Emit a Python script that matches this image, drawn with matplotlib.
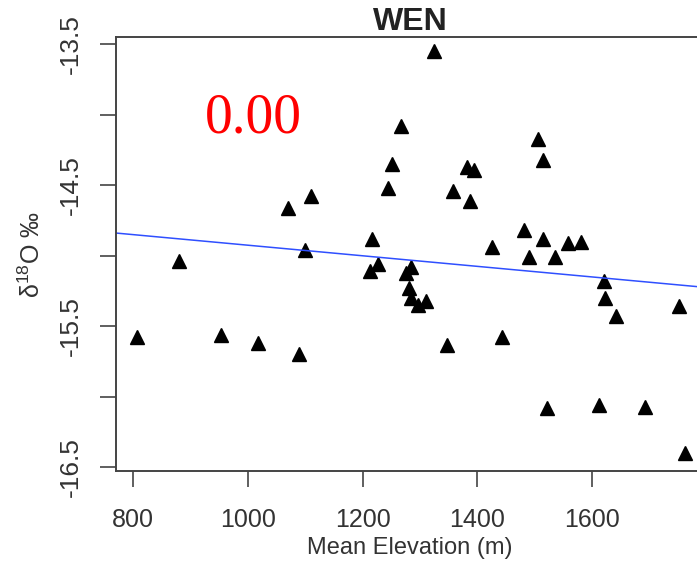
import matplotlib.pyplot as plt
import numpy as np

plt.rcParams['font.family'] = ['Liberation Sans', 'DejaVu Sans']

# station WEN: mean elevation vs d18O
elev = [807, 953, 1018, 1089, 880, 1070, 1110, 1100, 1325, 1266,
        1252, 1244, 1217, 1213, 1227, 1276, 1284, 1281, 1284, 1297,
        1311, 1347, 1358, 1382, 1394, 1387, 1426, 1443, 1481, 1490,
        1506, 1515, 1515, 1536, 1558, 1581, 1621, 1623, 1642, 1752,
        1522, 1612, 1692, 1762]
d18o = [-15.58, -15.56, -15.62, -15.70, -15.04, -14.66, -14.58, -14.96, -13.55, -14.08,
        -14.35, -14.52, -14.88, -15.11, -15.06, -15.12, -15.08, -15.23, -15.30, -15.35,
        -15.32, -15.63, -14.54, -14.37, -14.39, -14.61, -14.94, -15.58, -14.82, -15.01,
        -14.17, -14.32, -14.88, -15.01, -14.91, -14.90, -15.18, -15.30, -15.43, -15.36,
        -16.08, -16.06, -16.07, -16.40]

# fitted line
intercept = -14.551
slope = -0.000375
slope_label = "0.00"

xticks = [800, 1000, 1200, 1400, 1600]
yticks = [-13.5, -14.0, -14.5, -15.0, -15.5, -16.0, -16.5]
ytick_labels = ["-13.5", "", "-14.5", "", "-15.5", "", "-16.5"]

fig = plt.figure(figsize=(6.97, 5.66), dpi=100)
ax = fig.add_axes([0.1664, 0.1678, 1.01 - 0.1664, 0.9346 - 0.1678])

ax.plot(elev, d18o, '^', color='black', markersize=10.5, linestyle='none')

ax.set_xlim(770, 1795)
ax.set_ylim(-16.527, -13.45)
xs = np.array(ax.get_xlim())
ax.plot(xs, intercept + slope * xs, color='#2f4fff', lw=1.1)

ax.set_xticks(xticks)
ax.set_yticks(yticks)
ax.set_yticklabels(ytick_labels, rotation=90, va='center')
ax.tick_params(axis='both', length=11.5, width=1.2, color='#444444',
               labelsize=18, labelcolor='#333333')
ax.tick_params(axis='x', pad=15)
ax.tick_params(axis='y', pad=12, labelsize=19)

for s in ax.spines.values():
    s.set_color('#444444')
    s.set_linewidth(1.4)

ax.set_title('WEN', fontweight='bold', fontsize=23, pad=2, color='#222222')
ax.set_xlabel('Mean Elevation (m)', fontsize=17, color='#333333', labelpad=4)
ax.set_ylabel(r'$\mathregular{\delta^{18}O}$ ‰', fontsize=18, color='#333333')
ax.yaxis.set_label_coords(-0.12, 0.5)

ax.text(925, -14.124, slope_label, color='red', fontsize=40,
        family=['Liberation Serif', 'DejaVu Serif'], ha='left', va='baseline')

fig.savefig('out.png', dpi=100)
